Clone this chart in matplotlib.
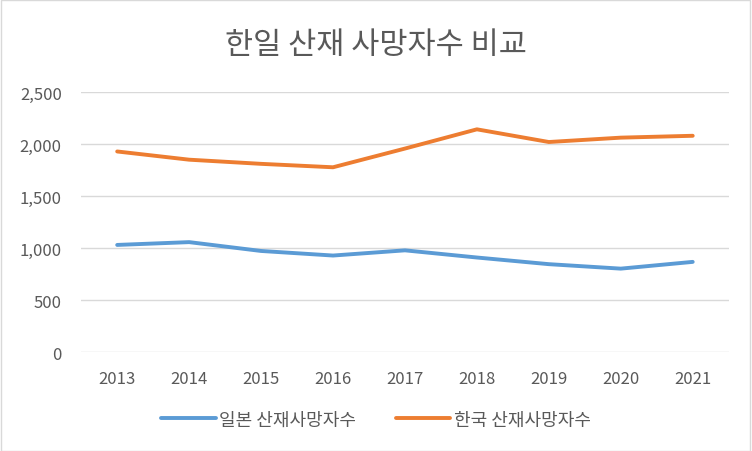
import matplotlib
matplotlib.use('Agg')
import matplotlib.pyplot as plt
from matplotlib import rcParams
from matplotlib.patches import Rectangle
from matplotlib.ticker import FuncFormatter

# Text color specs
COLOR = '#595959'
rcParams['font.family'] = ['Noto Sans CJK KR', 'DejaVu Sans']
rcParams['text.color'] = COLOR
rcParams['xtick.color'] = COLOR
rcParams['ytick.color'] = COLOR

# Data
years = ['2013', '2014', '2015', '2016', '2017', '2018', '2019', '2020', '2021']
japan = [1030, 1057, 972, 928, 978, 909, 845, 802, 867]
korea = [1929, 1850, 1810, 1777, 1957, 2142, 2020, 2062, 2080]

fig = plt.figure(figsize=(7.52, 4.52), dpi=100)
ax = fig.add_axes([0.108, 0.219, 0.861, 0.575])

ax.plot(years, japan, color='#5B9BD5', linewidth=2.8, label='일본 산재사망자수',
        solid_capstyle='round')
ax.plot(years, korea, color='#ED7D31', linewidth=2.8, label='한국 산재사망자수',
        solid_capstyle='round')

ax.set_ylim(0, 2500)
ax.set_yticks(range(0, 2501, 500))
ax.yaxis.set_major_formatter(FuncFormatter(lambda v, p: f'{int(v):,}'))
ax.set_xlim(-0.5, len(years) - 0.5)
ax.grid(axis='y', color='#D9D9D9', linewidth=1)
ax.set_axisbelow(True)
ax.tick_params(axis='both', length=0, labelsize=12)
ax.tick_params(axis='x', pad=13)
ax.tick_params(axis='y', pad=14)
for s in ax.spines.values():
    s.set_visible(False)

fig.text(0.5, 0.9, '한일 산재 사망자수 비교', ha='center', va='center', fontsize=22)

fig.legend(loc='center', bbox_to_anchor=(0.5, 0.07), ncol=2, frameon=False,
           fontsize=13, handlelength=3.0, handletextpad=0.2, columnspacing=2.2)

# Outer border
fig.patches.append(Rectangle((0.001, 0.001), 0.997, 0.997, transform=fig.transFigure,
                             fill=False, edgecolor='#D9D9D9', linewidth=1))

fig.savefig('out.png', dpi=100)
